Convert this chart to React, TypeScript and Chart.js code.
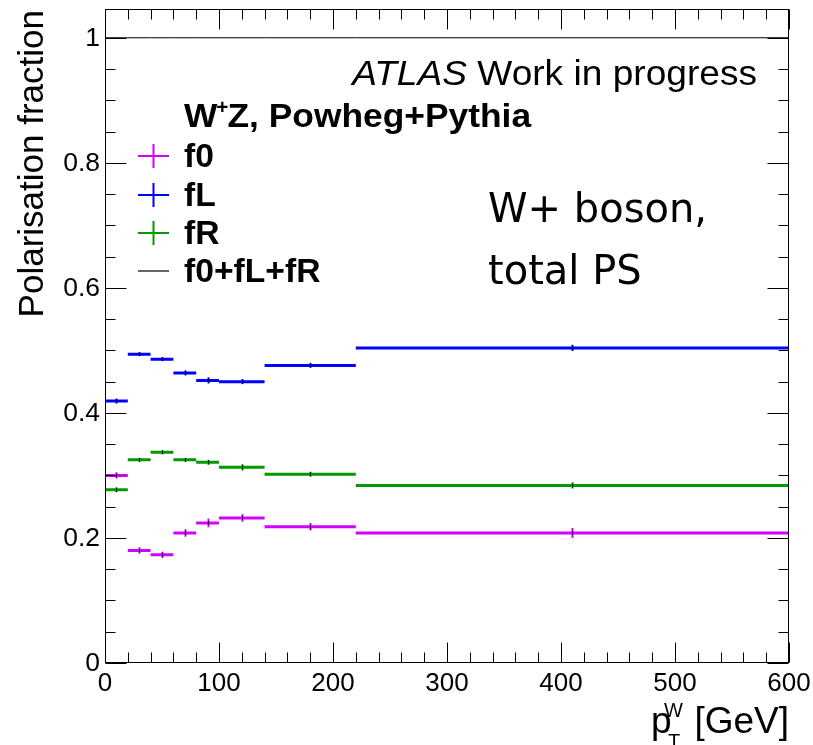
import React, { useEffect, useRef } from "react";
import { Chart, registerables } from "chart.js";

Chart.register(...registerables);

// Bin edges in p_T^W [GeV]
const binEdges = [0, 20, 40, 60, 80, 100, 140, 220, 600];

// Polarisation fractions per bin
const f0Values = [0.300, 0.180, 0.173, 0.208, 0.224, 0.232, 0.218, 0.208];
const fLValues = [0.419, 0.494, 0.486, 0.464, 0.452, 0.450, 0.476, 0.504];
const fRValues = [0.277, 0.325, 0.337, 0.325, 0.321, 0.313, 0.302, 0.284];
const sumValues = [1.0, 1.0, 1.0, 1.0, 1.0, 1.0, 1.0, 1.0];

// Statistical uncertainties per bin
const f0Errors = [0.005, 0.005, 0.005, 0.006, 0.007, 0.006, 0.006, 0.008];
const fLErrors = [0.004, 0.003, 0.003, 0.004, 0.005, 0.004, 0.004, 0.005];
const fRErrors = [0.004, 0.003, 0.003, 0.003, 0.004, 0.005, 0.004, 0.005];

// Axis ticks
const xMajorTicks = [0, 100, 200, 300, 400, 500, 600];
const xTickLabels = ["0", "100", "200", "300", "400", "500", "600"];
const yMajorTicks = [0, 0.2, 0.4, 0.6, 0.8, 1.0];
const yTickLabels = ["0", "0.2", "0.4", "0.6", "0.8", "1"];
const xMinorStep = 20;
const yMinorStep = 0.05;

const Y_MAX = 1.046;

const COLOR_F0 = "#d200ff";
const COLOR_FL = "#0000ff";
const COLOR_FR = "#009900";
const COLOR_SUM = "#000000";

const SANS = "'Liberation Sans', Arial, Helvetica, sans-serif";
const HAND = "'DejaVu Sans', sans-serif";

function histPoints(values: number[]) {
  const pts: { x: number; y: number | null }[] = [];
  values.forEach((v, i) => {
    pts.push({ x: binEdges[i], y: v });
    pts.push({ x: binEdges[i + 1], y: v });
    pts.push({ x: binEdges[i + 1], y: null });
  });
  return pts;
}

function drawText(
  ctx: CanvasRenderingContext2D,
  str: string,
  x: number,
  y: number,
  font: string,
  align: CanvasTextAlign = "left",
  baseline: CanvasTextBaseline = "alphabetic",
  sx = 1
) {
  ctx.save();
  ctx.font = font;
  ctx.textAlign = align;
  ctx.textBaseline = baseline;
  ctx.fillStyle = "#000";
  ctx.translate(x, y);
  ctx.scale(sx, 1);
  ctx.fillText(str, 0, 0);
  ctx.restore();
}

function textWidth(ctx: CanvasRenderingContext2D, str: string, font: string, sx = 1) {
  ctx.save();
  ctx.font = font;
  const w = ctx.measureText(str).width * sx;
  ctx.restore();
  return w;
}

const errorSeries = [
  { values: f0Values, errors: f0Errors, color: COLOR_F0 },
  { values: fLValues, errors: fLErrors, color: COLOR_FL },
  { values: fRValues, errors: fRErrors, color: COLOR_FR },
];

const legendEntries = [
  { label: "f0", color: COLOR_F0, cross: true },
  { label: "fL", color: COLOR_FL, cross: true },
  { label: "fR", color: COLOR_FR, cross: true },
  { label: "f0+fL+fR", color: "#333333", cross: false },
];

const rootStyle = {
  id: "rootStyle",
  afterDatasetsDraw(chart: any) {
    const { ctx, chartArea: a, scales } = chart;
    const xs = scales.x;
    const ys = scales.y;

    // error bars at bin centres
    ctx.save();
    errorSeries.forEach((s) => {
      s.values.forEach((v, i) => {
        const xc = (binEdges[i] + binEdges[i + 1]) / 2;
        const px = Math.round(xs.getPixelForValue(xc)) + 0.5;
        const yTop = ys.getPixelForValue(v + s.errors[i]);
        const yBot = ys.getPixelForValue(v - s.errors[i]);
        const yc = ys.getPixelForValue(v);
        ctx.strokeStyle = s.color;
        ctx.lineWidth = 2;
        ctx.beginPath();
        ctx.moveTo(px, yTop);
        ctx.lineTo(px, yBot);
        ctx.stroke();
        ctx.strokeStyle = "#000";
        ctx.lineWidth = 1;
        ctx.beginPath();
        ctx.moveTo(px, yc - 2);
        ctx.lineTo(px, yc + 2);
        ctx.stroke();
      });
    });
    ctx.restore();

    // frame
    ctx.save();
    ctx.strokeStyle = "#000";
    ctx.lineWidth = 1;
    const L = Math.round(a.left) + 0.5;
    const R = Math.round(a.right) - 0.5;
    const T = Math.round(a.top) + 0.5;
    const B = Math.round(a.bottom) - 0.5;
    ctx.strokeRect(L, T, R - L, B - T);

    // x ticks (bottom and top)
    ctx.beginPath();
    for (let v = 0; v <= 600 + 1e-6; v += xMinorStep) {
      const major = Math.abs(v % 100) < 1e-6;
      const len = major ? 20 : 10;
      const px = Math.round(xs.getPixelForValue(v)) + 0.5;
      ctx.moveTo(px, B);
      ctx.lineTo(px, B - len);
      ctx.moveTo(px, T);
      ctx.lineTo(px, T + len);
    }
    // y ticks (left and right)
    for (let k = 0; k * yMinorStep <= Y_MAX + 1e-6; k++) {
      const v = k * yMinorStep;
      const major = k % 4 === 0;
      const len = major ? 21 : 10;
      const py = Math.round(ys.getPixelForValue(v)) + 0.5;
      ctx.moveTo(L, py);
      ctx.lineTo(L + len, py);
      ctx.moveTo(R, py);
      ctx.lineTo(R - len, py);
    }
    ctx.stroke();
    ctx.restore();

    // tick labels
    const tickFont = `25px ${SANS}`;
    xMajorTicks.forEach((v, i) => {
      drawText(ctx, xTickLabels[i], xs.getPixelForValue(v), a.bottom + 28, tickFont, "center", "alphabetic", 1.04);
    });
    yMajorTicks.forEach((v, i) => {
      drawText(ctx, yTickLabels[i], a.left - 5, ys.getPixelForValue(v) + 1, tickFont, "right", "middle", 1.06);
    });

    // y axis title
    ctx.save();
    ctx.translate(43, 10);
    ctx.rotate(-Math.PI / 2);
    ctx.font = `35px ${SANS}`;
    ctx.textAlign = "right";
    ctx.textBaseline = "alphabetic";
    ctx.fillStyle = "#000";
    ctx.fillText("Polarisation fraction", 0, 0);
    ctx.restore();

    // x axis title: p_T^W [GeV]
    const titleFont = `37px ${SANS}`;
    const gevW = textWidth(ctx, "[GeV]", titleFont);
    const gevX = a.right - gevW;
    drawText(ctx, "[GeV]", gevX, 733, titleFont, "left");
    drawText(ctx, "p", 651, 733, titleFont, "left");
    drawText(ctx, "W", 664, 717, `20px ${SANS}`, "left");
    drawText(ctx, "T", 668, 748, `20px ${SANS}`, "left");

    // ATLAS label
    const atlasItalic = `italic 35px ${SANS}`;
    const atlasNormal = `35px ${SANS}`;
    const atlasSx = 1.06;
    const w1 = textWidth(ctx, "ATLAS", atlasItalic, atlasSx);
    const w2 = textWidth(ctx, " Work in progress", atlasNormal, atlasSx);
    const atlasRight = 757;
    drawText(ctx, "ATLAS", atlasRight - w1 - w2, 85, atlasItalic, "left", "alphabetic", atlasSx);
    drawText(ctx, " Work in progress", atlasRight - w2, 85, atlasNormal, "left", "alphabetic", atlasSx);

    // legend header: W+Z, Powheg+Pythia
    const headFont = `bold 34px ${SANS}`;
    const supFont = `bold 20px ${SANS}`;
    const headSx = 1.04;
    const wW = textWidth(ctx, "W", headFont, headSx);
    const plusW = textWidth(ctx, "+", supFont, headSx);
    drawText(ctx, "W", 184, 127, headFont, "left", "alphabetic", headSx);
    drawText(ctx, "+", 184 + wW - 1, 114, supFont, "left", "alphabetic", headSx);
    drawText(ctx, "Z, Powheg+Pythia", 184 + wW + plusW - 2, 127, headFont, "left", "alphabetic", headSx);

    // legend entries
    const legendFont = `bold 33px ${SANS}`;
    const centres = [156, 195, 233, 271];
    legendEntries.forEach((e, i) => {
      const cy = centres[i];
      ctx.save();
      ctx.strokeStyle = e.color;
      ctx.lineWidth = e.cross ? 2 : 1.5;
      ctx.beginPath();
      ctx.moveTo(138, cy);
      ctx.lineTo(169, cy);
      if (e.cross) {
        ctx.moveTo(153.5, cy - 12);
        ctx.lineTo(153.5, cy + 12);
      }
      ctx.stroke();
      ctx.restore();
      drawText(ctx, e.label, 184, cy + 11, legendFont, "left", "alphabetic", 1.02);
    });

    // annotation
    const handFont = `40px ${HAND}`;
    drawText(ctx, "W+ boson,", 488, 222, handFont, "left");
    drawText(ctx, "total PS", 488, 284, handFont, "left");
  },
};

export default function App() {
  const canvasRef = useRef<HTMLCanvasElement | null>(null);

  useEffect(() => {
    const canvas = canvasRef.current;
    if (!canvas) return;
    const makeSet = (label: string, values: number[], color: string, width: number) => ({
      label,
      data: histPoints(values),
      borderColor: color,
      backgroundColor: color,
      borderWidth: width,
      pointRadius: 0,
      tension: 0,
      spanGaps: false,
      fill: false,
      borderCapStyle: "butt" as const,
    });
    const chart = new Chart(canvas, {
      type: "line",
      data: {
        datasets: [
          makeSet("f0+fL+fR", sumValues, COLOR_SUM, 1),
          makeSet("f0", f0Values, COLOR_F0, 3),
          makeSet("fL", fLValues, COLOR_FL, 3),
          makeSet("fR", fRValues, COLOR_FR, 3),
        ],
      },
      options: {
        animation: false,
        responsive: false,
        devicePixelRatio: 1,
        layout: { padding: { left: 105, top: 9, right: 24, bottom: 82 } },
        scales: {
          x: { type: "linear", min: 0, max: 600, display: false },
          y: { type: "linear", min: 0, max: Y_MAX, display: false },
        },
        plugins: {
          legend: { display: false },
          tooltip: { enabled: false },
        },
      },
      plugins: [rootStyle],
    });
    return () => chart.destroy();
  }, []);

  return (
    <canvas
      ref={canvasRef}
      width={813}
      height={745}
      style={{ position: "fixed", left: 0, top: 0, display: "block", background: "#fff" }}
    />
  );
}
